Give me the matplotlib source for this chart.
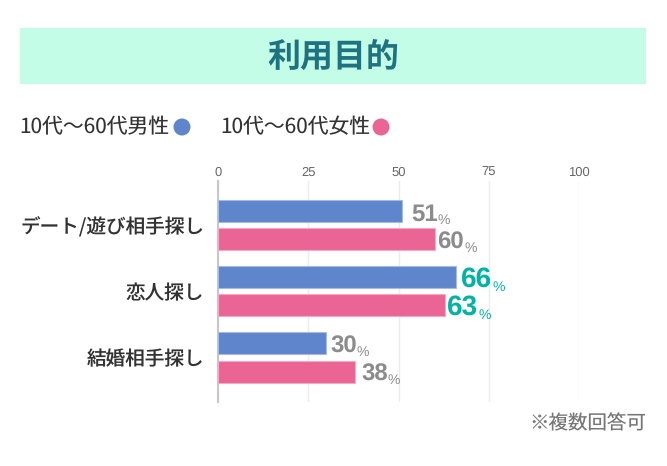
import matplotlib
matplotlib.use("Agg")
import matplotlib.pyplot as plt
from matplotlib.patches import Rectangle, Ellipse
import numpy as np

plt.rcParams["text.hinting"] = "none"
plt.rcParams["text.hinting_factor"] = 8

categories = ["デート/遊び相手探し", "恋人探し", "結婚相手探し"]
male_values = [51, 66, 30]
female_values = [60, 63, 38]
x_ticks = [0, 25, 50, 75, 100]
highlight_cats = ["恋人探し"]
title = "利用目的"
legend_labels = ["10代〜60代男性", "10代〜60代女性"]
note = "※複数回答可"

W, H = 667, 466
BLUE, PINK = "#5f85cc", "#ea6593"
BLUE_E, PINK_E = "#a5bbe4", "#f5a9c4"
GRAY, TEAL = "#8c8c8c", "#00b3a4"
CJK = "Noto Sans CJK JP"
NUM = "Liberation Sans"
px = lambda v: v * 0.72  # px -> pt at dpi 100

fig = plt.figure(figsize=(W / 100, H / 100), dpi=100, facecolor="white")
fx = lambda x: x / W
fy = lambda y: 1 - y / H

# header band
fig.add_artist(Rectangle((fx(20), fy(84)), fx(626), 56 / H, transform=fig.transFigure,
                         fc="#c3fde8", ec="none"))
fig.text(fx(333.5), fy(57), title, ha="center", va="center", family=CJK, weight="bold",
         fontsize=px(33), color="#1f7380")

# legend
for lab, tx, cx, col in zip(legend_labels, (19, 220), (182, 381), (BLUE, PINK)):
    fig.text(fx(tx), fy(127), lab, ha="left", va="center", family=CJK,
             fontsize=px(20.8), color="#333333")
    fig.add_artist(Ellipse((fx(cx), fy(127)), 17 / W, 17 / H, transform=fig.transFigure,
                           fc=col, ec="none"))

# plot
ax = fig.add_axes([fx(218), fy(402), (579 - 218) / W, (402 - 181) / H])
ax.set_xlim(0, 100)
ax.set_ylim(2.675, -0.67)
pos = np.arange(len(categories))
off, h = 0.214, 0.333
b1 = ax.barh(pos - off, male_values, h, color=BLUE, edgecolor=BLUE_E, linewidth=0.8, zorder=3)
b2 = ax.barh(pos + off, female_values, h, color=PINK, edgecolor=PINK_E, linewidth=0.8, zorder=3)

for s in ("top", "right", "bottom"):
    ax.spines[s].set_visible(False)
ax.spines["left"].set_color("#c8c8c8")
ax.spines["left"].set_linewidth(1.5)
ax.xaxis.tick_top()
ax.set_xticks(x_ticks)
ax.set_xticklabels([str(t) for t in x_ticks], family=NUM, fontsize=px(13), color="#666666",
                   va="baseline")
ax.tick_params(axis="x", length=0, pad=px(5))
ax.grid(axis="x", color="#ececec", linewidth=1, zorder=0)
ax.set_axisbelow(True)
ax.set_yticks(pos)
ax.set_yticklabels(categories, family=CJK, weight="medium", fontsize=px(19.6), color="#333333")
ax.tick_params(axis="y", length=0, pad=10)

# value labels: horizontal gaps in px from bar end
gaps_m = [9, 5, 4]
gaps_f = [3, 2, 6]
def label(val, y, gap, cat):
    hi = cat in highlight_cats
    col = TEAL if hi else GRAY
    t = ax.annotate(str(val), xy=(val, y), xytext=(px(gap), px(-9.5)), textcoords="offset points",
                    ha="left", va="baseline", family=NUM, weight="bold",
                    fontsize=px(28 if hi else 24), color=col, zorder=4)
    ax.annotate("%", xy=(1, 0), xycoords=t, xytext=(px(0), px(-1)), textcoords="offset points",
                ha="left", va="bottom", family=NUM, fontsize=px(14), color=col, zorder=4)
    return t
fig.canvas.draw()
for i, c in enumerate(categories):
    label(male_values[i], pos[i] - off, gaps_m[i], c)
    label(female_values[i], pos[i] + off, gaps_f[i], c)

fig.text(fx(646), fy(424), note, ha="right", va="center", family=CJK,
         fontsize=px(19.5), color="#777777")

fig.savefig("out.png", dpi=100)
